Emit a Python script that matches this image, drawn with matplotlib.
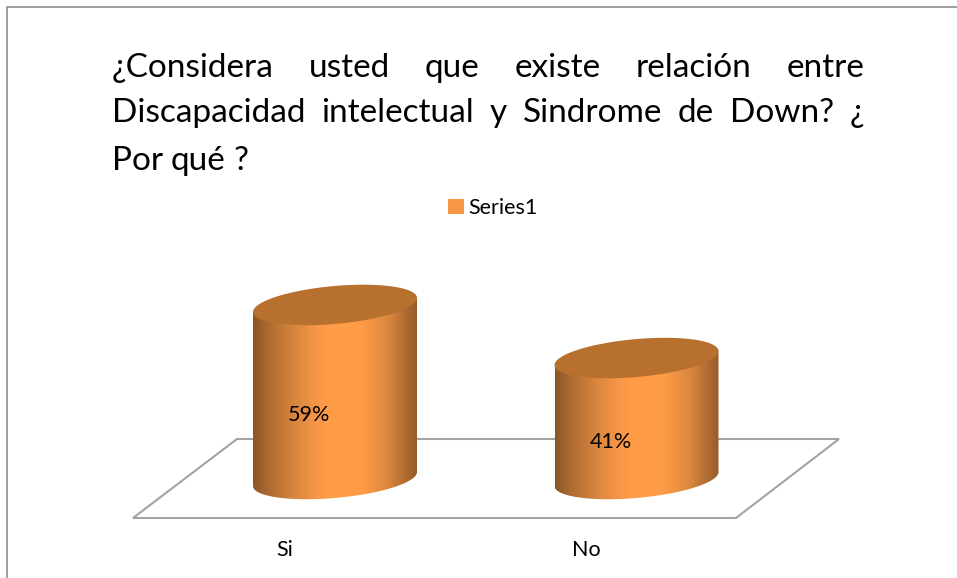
import numpy as np
import matplotlib
matplotlib.use("Agg")
import matplotlib.pyplot as plt
from matplotlib.patches import Polygon, Patch
from matplotlib.lines import Line2D
from matplotlib.colors import LinearSegmentedColormap

categories = ["Si", "No"]
values = [59, 41]
value_labels = ["59%", "41%"]
series_name = "Series1"
title_lines = ["¿Considera usted que existe relación entre",
               "Discapacidad intelectual y Sindrome de Down? ¿",
               "Por qué ?"]

W, H = 957, 578
FONT = "Lato"
GREY = "#a3a3a3"
ORANGE = "#f79646"
TOP = "#b8702f"
side_cmap = LinearSegmentedColormap.from_list("side", [
    (0.00, "#8b5526"), (0.10, "#b06c33"), (0.25, "#d8853e"), (0.38, "#f59546"),
    (0.46, "#ff9c48"), (0.66, "#ff9c48"), (0.82, "#dd883f"), (0.94, "#ac6a30"),
    (1.00, "#965c2a")])

PX_PER_CAT = 301.5
PX_PER_VAL = 2.95
X0_PX, Y0_PX = 335, 479

fig = plt.figure(figsize=(W / 100, H / 100), dpi=100, facecolor="white")
ax = fig.add_axes([0, 0, 1, 1])
ax.set_xlim(-X0_PX / PX_PER_CAT, (W - X0_PX) / PX_PER_CAT)
ax.set_ylim((Y0_PX - H) / PX_PER_VAL, Y0_PX / PX_PER_VAL)
ax.axis("off")


def axfrac(px, py):
    return px / W, 1 - py / H


# outer frame
xs, ys = zip(*[axfrac(7, H), axfrac(7, 7), axfrac(W, 7)])
ax.add_line(Line2D(xs, ys, transform=ax.transAxes, color="#8f8f8f", lw=1.2, zorder=1))

# floor
floor = [axfrac(133, 518), axfrac(237, 439), axfrac(839, 439), axfrac(736, 518)]
ax.add_patch(Polygon(floor, closed=True, fc="white", ec=GREY, lw=1.5,
                     transform=ax.transAxes, zorder=1))

# cylinders
A = 82 / PX_PER_CAT
TILT = 7 / PX_PER_VAL
B = 19 / PX_PER_VAL
grad = np.linspace(0, 1, 256).reshape(1, -1)
for i, v in enumerate(values):
    t = np.linspace(np.pi, 2 * np.pi, 80)        # lower half, left to right
    bx = i + A * np.cos(t)
    by = TILT * np.cos(t) + B * np.sin(t)
    side = np.r_[np.c_[bx, by], [[i + A, v + TILT], [i - A, v - TILT]]]
    clip = Polygon(side, closed=True, transform=ax.transData, fc="none", ec="none")
    ax.add_patch(clip)
    im = ax.imshow(grad, cmap=side_cmap, aspect="auto", zorder=3,
                   extent=(i - A, i + A, -10, v + 10))
    im.set_clip_path(clip)
    t = np.linspace(0, 2 * np.pi, 160)
    ax.fill(i + A * np.cos(t), v + TILT * np.cos(t) + B * np.sin(t),
            color=TOP, lw=0, zorder=4)
    ax.annotate(value_labels[i], (i, v / 2), xytext=(-26, -23),
                textcoords="offset pixels", ha="center", va="center",
                family=FONT, fontsize=15.5, color="black", zorder=5)
    ax.annotate(categories[i], (i, 0), xytext=(-50, -71),
                textcoords="offset pixels", ha="center", va="center",
                family=FONT, fontsize=15.5, color="black", zorder=5)

ax.set_xlim(-X0_PX / PX_PER_CAT, (W - X0_PX) / PX_PER_CAT)
ax.set_ylim((Y0_PX - H) / PX_PER_VAL, Y0_PX / PX_PER_VAL)

# legend
ax.legend(handles=[Patch(fc=ORANGE, ec="none", label=series_name)],
          loc="center", bbox_to_anchor=axfrac(493, 208), frameon=False,
          prop={"family": FONT, "size": 15.5}, handlelength=0.72, handleheight=0.72,
          handletextpad=0.2, borderpad=0, borderaxespad=0)

# justified title
TITLE_L, TITLE_R = 112, 864
TITLE_Y = [68, 113, 161]
TITLE_SIZE = 24
renderer = fig.canvas.get_renderer()
for n, (line, py) in enumerate(zip(title_lines, TITLE_Y)):
    words = line.split(" ")
    texts = [fig.text(0, 1 - py / H, w, family=FONT, fontsize=TITLE_SIZE,
                      color="black", va="center", ha="left") for w in words]
    widths = [t.get_window_extent(renderer).width for t in texts]
    if n < len(title_lines) - 1:
        gap = (TITLE_R - TITLE_L - sum(widths)) / (len(words) - 1)
    else:
        gap = 8
    x = TITLE_L
    for t, w in zip(texts, widths):
        t.set_x(x / W)
        x += w + gap

fig.savefig("out.png", dpi=100, facecolor="white")
